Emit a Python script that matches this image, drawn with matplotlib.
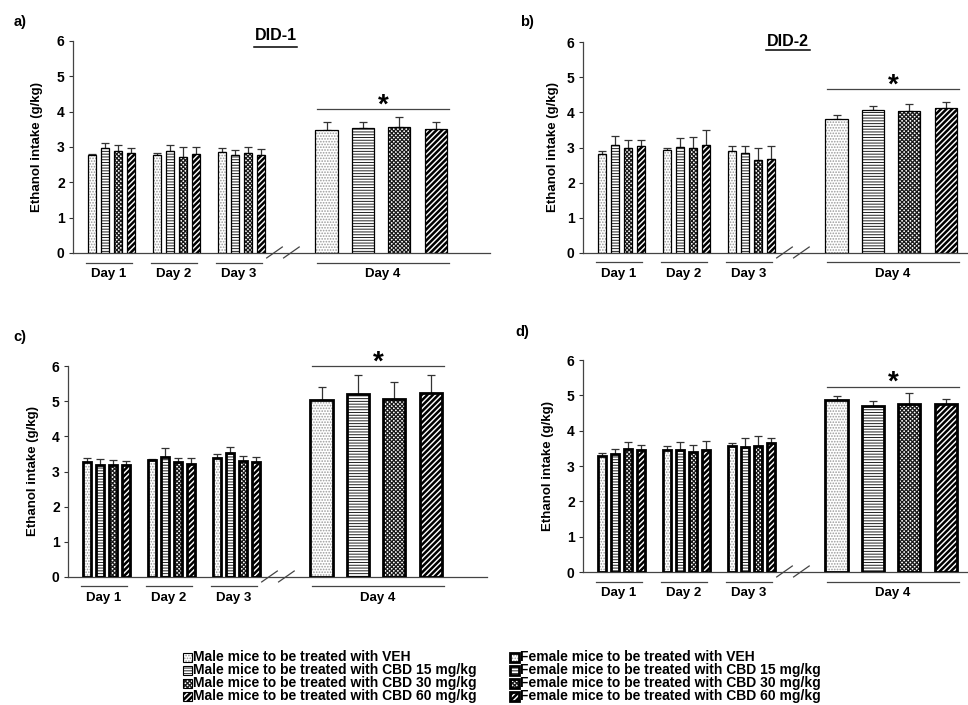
import matplotlib
matplotlib.use("Agg")
import matplotlib.pyplot as plt
from matplotlib.patches import Rectangle

plt.rcParams['font.family'] = ['Liberation Sans', 'DejaVu Sans']
plt.rcParams['font.weight'] = 'bold'
plt.rcParams['hatch.linewidth'] = 0.8

W, H = 968, 705

days = ['Day 1', 'Day 2', 'Day 3', 'Day 4']
treatments = ['VEH', 'CBD 15 mg/kg', 'CBD 30 mg/kg', 'CBD 60 mg/kg']

# a) DID-1 males: rows = days, columns = treatments
a_mean = [[2.76, 2.97, 2.90, 2.82],
          [2.78, 2.90, 2.72, 2.80],
          [2.85, 2.78, 2.82, 2.78],
          [3.48, 3.55, 3.56, 3.51]]
a_err = [[0.05, 0.14, 0.16, 0.16],
         [0.06, 0.15, 0.28, 0.20],
         [0.12, 0.14, 0.19, 0.16],
         [0.24, 0.17, 0.28, 0.21]]

# b) DID-2 males
b_mean = [[2.82, 3.06, 3.00, 3.05],
          [2.92, 3.02, 3.00, 3.07],
          [2.89, 2.83, 2.64, 2.68],
          [3.82, 4.08, 4.05, 4.11]]
b_err = [[0.07, 0.26, 0.21, 0.16],
         [0.08, 0.26, 0.31, 0.44],
         [0.14, 0.20, 0.35, 0.35],
         [0.09, 0.10, 0.20, 0.18]]

# c) DID-1 females
c_mean = [[3.28, 3.18, 3.18, 3.18],
          [3.32, 3.41, 3.28, 3.22],
          [3.38, 3.54, 3.29, 3.27],
          [5.04, 5.20, 5.05, 5.22]]
c_err = [[0.10, 0.18, 0.16, 0.11],
         [0.03, 0.25, 0.11, 0.15],
         [0.11, 0.15, 0.14, 0.15],
         [0.37, 0.53, 0.50, 0.51]]

# d) DID-2 females
d_mean = [[3.29, 3.34, 3.47, 3.44],
          [3.46, 3.46, 3.39, 3.44],
          [3.57, 3.53, 3.56, 3.65],
          [4.87, 4.69, 4.76, 4.76]]
d_err = [[0.08, 0.15, 0.22, 0.15],
         [0.11, 0.21, 0.21, 0.27],
         [0.08, 0.27, 0.28, 0.13],
         [0.10, 0.16, 0.31, 0.14]]

sig_levels = [4.08, 4.66, 6.0, 5.25]

hatches = ['......', '------', 'xxxxxxxx', '//////']
hatch_cols = ['#9a9a9a', '#222222', '#1a1a1a', '#000000']
hatch_lws = [0.8, 0.7, 0.9, 1.8]


def px(x, y):
    return x / W, 1 - y / H


def add_axes(x0, x1, y_top, y_bot):
    l, b = px(x0, y_bot)
    r, t = px(x1, y_top)
    return fig.add_axes([l, b, r - l, t - b])


def set_hlw(patch, lw):
    if hasattr(patch, 'set_hatch_linewidth'):
        patch.set_hatch_linewidth(lw)


def bar_pos(d, g):
    if d < 3:
        return 1.46 + 5 * d + g, 0.62
    return 19.5 + 2.8 * g, 1.7


def draw_panel(ax, means, errs, thick, width_px, sig_y):
    lw = 2.0 if thick else 0.9
    for d in range(4):
        for g in range(4):
            x, w = bar_pos(d, g)
            with plt.rc_context({'hatch.linewidth': hatch_lws[g]}):
                bars = ax.bar(x, means[d][g], w, color='white', hatch=hatches[g],
                              edgecolor=hatch_cols[g], linewidth=0, zorder=2)
            for p in bars:
                set_hlw(p, hatch_lws[g])
            ax.bar(x, means[d][g], w, fill=False, edgecolor='black',
                   linewidth=lw, zorder=3)
            ax.errorbar(x, means[d][g], yerr=[[0], [errs[d][g]]], fmt='none',
                        ecolor='#333333', elinewidth=0.9, capsize=3,
                        capthick=0.9, zorder=1)

    ax.set_xlim(0, width_px / 13)
    ax.set_ylim(0, 6)
    ax.set_xticks([])
    ax.set_yticks(range(7))
    ax.tick_params(axis='y', length=3, width=0.8, colors='#333333',
                   labelsize=10, labelcolor='black', pad=3)
    for s in ['top', 'right']:
        ax.spines[s].set_visible(False)
    for s in ['left', 'bottom']:
        ax.spines[s].set_color('#444444')
        ax.spines[s].set_linewidth(0.9)

    # day underlines and labels
    spans = [(1.0, 4.5), (6.0, 9.5), (11.0, 14.5), (18.8, 28.9)]
    for (s0, s1), day in zip(spans, days):
        ax.plot([s0, s1], [-0.27, -0.27], color='#444444', lw=0.9,
                clip_on=False)
        ax.text((s0 + s1) / 2, -0.42, day, ha='center', va='top',
                fontsize=9.5, fontweight='bold')

    # axis break marks
    for bx in [14.9, 16.2]:
        ax.plot([bx, bx + 1.2], [-0.14, 0.17], color='#444444', lw=0.9,
                clip_on=False)

    # significance bar
    ax.plot([18.8, 28.9], [sig_y, sig_y], color='#444444', lw=0.9,
            clip_on=False)
    ax.text(23.85, sig_y - 0.1, '*', ha='center', va='baseline',
            fontsize=20, fontweight='bold', clip_on=False)


fig = plt.figure(figsize=(W / 100, H / 100), dpi=100)

ax_a = add_axes(73, 490, 41, 253)
ax_b = add_axes(583, 968, 42, 253)
ax_c = add_axes(68, 487, 366, 577)
ax_d = add_axes(583, 968, 360, 572)

draw_panel(ax_a, a_mean, a_err, False, 417, sig_levels[0])
draw_panel(ax_b, b_mean, b_err, False, 385, sig_levels[1])
draw_panel(ax_c, c_mean, c_err, True, 419, sig_levels[2])
draw_panel(ax_d, d_mean, d_err, True, 385, sig_levels[3])

# y labels
for (x, y) in [(37, 147), (553, 147), (33, 471), (548, 466)]:
    fig.text(*px(x, y), 'Ethanol intake (g/kg)', rotation=90,
             ha='center', va='center', fontsize=9.5, fontweight='bold')

# panel letters
for (x, y), lab in zip([(20, 22), (527, 22), (20, 337), (522, 332)],
                       ['a)', 'b)', 'c)', 'd)']):
    fig.text(*px(x, y), lab, ha='center', va='center', fontsize=10.5,
             fontweight='bold')

# underlined titles
for (x, y, x0, x1, yu), title in zip([(275.5, 36, 254, 297, 47),
                                      (788, 41, 766, 810, 50)],
                                     ['DID-1', 'DID-2']):
    fig.text(*px(x, y), title, ha='center', va='center', fontsize=11.5,
             fontweight='bold')
    fig.add_artist(plt.Line2D([x0 / W, x1 / W], [1 - yu / H, 1 - yu / H],
                              color='black', lw=1.1))

# legend
row_y = [657, 670, 683, 696]
for col, (px0, sex, lw) in enumerate([(183, 'Male', 0.8), (510, 'Female', 2.0)]):
    for g, ty in enumerate(row_y):
        l, b = px(px0, ty + 4.5)
        w, h = 9 / W, 9 / H
        with plt.rc_context({'hatch.linewidth': hatch_lws[g]}):
            r = Rectangle((l, b), w, h, transform=fig.transFigure,
                          facecolor='white', hatch=hatches[g],
                          edgecolor=hatch_cols[g], linewidth=0)
        set_hlw(r, hatch_lws[g])
        fig.add_artist(r)
        fig.add_artist(Rectangle((l, b), w, h, transform=fig.transFigure,
                                 fill=False, edgecolor='black', linewidth=lw))
        fig.text(*px(px0 + 10, ty), f'{sex} mice to be treated with {treatments[g]}',
                 ha='left', va='center', fontsize=10, fontweight='bold')

fig.savefig('out.png', dpi=100, facecolor='white')
